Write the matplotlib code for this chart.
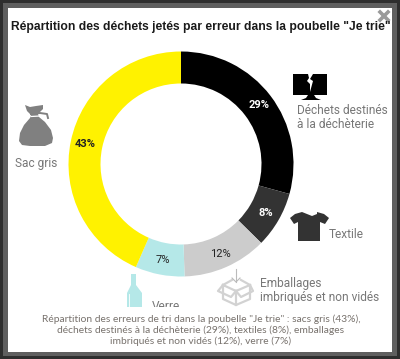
import matplotlib
matplotlib.use('Agg')
import matplotlib.pyplot as plt
from matplotlib.patches import Polygon, Rectangle
from matplotlib.lines import Line2D

# Data
categories = ['Déchets destinés à la déchèterie', 'Textile', 'Emballages imbriqués et non vidés', 'Verre', 'Sac gris']
values = [29, 8, 12, 7, 43]
colors = ['#000000', '#333333', '#cccccc', '#b5e8e8', '#fff200']
pct_colors = ['white', 'white', '#222222', '#222222', '#222222']
pct_weights = ['bold', 'bold', 'normal', 'normal', 'bold']

title = 'Répartition des déchets jetés par erreur dans la poubelle "Je trie"'
caption = ('Répartition des erreurs de tri dans la poubelle "Je trie" : sacs gris (43%),\n'
           'déchets destinés à la déchèterie (29%), textiles (8%), emballages\n'
           'imbriqués et non vidés (12%), verre (7%)')

W, H = 400, 359
fig = plt.figure(figsize=(W / 100, H / 100), dpi=100, facecolor='#2e2e2e')

# page frame, y runs downwards like the screenshot
bg = fig.add_axes([0, 0, 1, 1], zorder=0)
bg.set_xlim(0, W)
bg.set_ylim(H, 0)
bg.axis('off')
bg.add_patch(Rectangle((3, 3), 394, 353, fc='#5f5f5f', ec='none'))
bg.add_patch(Rectangle((8, 8), 384, 344, fc='white', ec='none'))

# donut
cx, cy, r = 181, 164, 112.5
pie_ax = fig.add_axes([(cx - r) / W, 1 - (cy + r) / H, 2 * r / W, 2 * r / H], zorder=1)
wedges, _, pcts = pie_ax.pie(values, colors=colors, startangle=90, counterclock=False,
                             autopct='%.0f%%', pctdistance=0.87,
                             wedgeprops={'width': 32 / r, 'linewidth': 0})
pie_ax.set_xlim(-1, 1)
pie_ax.set_ylim(-1, 1)
for t, c, w in zip(pcts, pct_colors, pct_weights):
    t.set_color(c)
    t.set_fontsize(8)
    t.set_fontweight(w)
    t.set_fontfamily('Roboto')

# overlay for icons and text
ov = fig.add_axes([0, 0, 1, 1], zorder=2)
ov.set_xlim(0, W)
ov.set_ylim(H, 0)
ov.axis('off')


def poly(pts, color, **kw):
    ov.add_patch(Polygon(pts, closed=True, fc=color, ec='none', **kw))


# bag
poly([(25, 105), (30, 107), (36, 106), (43, 105), (43, 109), (38, 114), (39, 117), (45, 122), (51, 130),
      (53, 138), (52, 143), (45, 146), (30, 146), (22, 145), (19, 141), (20, 133), (24, 125), (30, 118),
      (31, 115), (27, 111)], '#808080')
ov.add_line(Line2D([31, 40, 47, 48], [114, 113, 114, 118], color='#808080', lw=1.4))
ov.add_line(Line2D([31, 40, 45], [116.5, 116, 119], color='white', lw=0.9))

# monitor
poly([(293, 74), (327, 74), (327, 95), (293, 95)], '#000000')
poly([(308, 74), (313, 74), (310, 79), (313, 81), (310, 92), (310, 84), (307, 81), (309, 78)], 'white')
poly([(308, 95), (314, 95), (316, 98), (321, 100), (301, 100), (306, 98)], '#000000')

# t-shirt
poly([(302, 212), (307, 214), (312, 216), (317, 214), (317, 212), (324, 214), (329, 218), (325, 224),
      (320, 222), (320, 241), (298, 241), (298, 222), (294, 224), (290, 218), (295, 214)], '#333333')

# box
box = '#d2d2d2'
for xs, ys in [([223, 236, 250, 250, 236, 223, 223], [285, 291, 285, 299, 305, 299, 285]),
               ([236, 236], [291, 305]),
               ([223, 218, 231, 236], [285, 291, 297, 291]),
               ([250, 253, 241, 236], [285, 291, 297, 291]),
               ([223, 232], [285, 280]),
               ([250, 241], [285, 280])]:
    ov.add_line(Line2D(xs, ys, color=box, lw=1.6))
ov.add_line(Line2D([236, 236], [269, 282], color='#bbbbbb', lw=0.8))
ov.add_line(Line2D([232, 236, 240], [278, 282, 278], color='#bbbbbb', lw=0.8))

# bottle
poly([(131, 274), (136, 274), (136, 285), (142, 293), (142, 310), (127, 310), (127, 293), (131, 285)], colors[3])
ov.add_line(Line2D([129, 129], [294, 308], color='white', lw=0.6))

# close cross
ov.add_line(Line2D([380, 388], [12, 20], color='#9a9a9a', lw=2.6))
ov.add_line(Line2D([388, 380], [12, 20], color='#9a9a9a', lw=2.6))

# labels
lab = {'family': 'Roboto', 'color': '#777777', 'fontsize': 8.55, 'va': 'center', 'ha': 'left'}
ov.text(15, 163, 'Sac gris', **lab)
ov.text(297, 110, 'Déchets destinés', **lab)
ov.text(297, 125, 'à la déchèterie', **lab)
ov.text(329, 234, 'Textile', **lab)
ov.text(260, 283, 'Emballages', **lab)
ov.text(260, 298, 'imbriqués et non vidés', **lab)
ov.text(152, 306, 'Verre', **lab)

# caption sits on a white band which cuts the Verre label
ov.add_patch(Rectangle((8, 307), 384, 45, fc='white', ec='none', zorder=5))
ov.text(201, 330.5, caption, family='Lato', fontsize=7.35, color='#77716c', ha='center', va='center',
        linespacing=1.2, zorder=6)
ov.text(201, 27, title, family='Liberation Sans', fontweight='bold', fontsize=8.7, color='#1a1a1a',
        ha='center', va='center')

fig.savefig('out.png', dpi=100, facecolor=fig.get_facecolor())
